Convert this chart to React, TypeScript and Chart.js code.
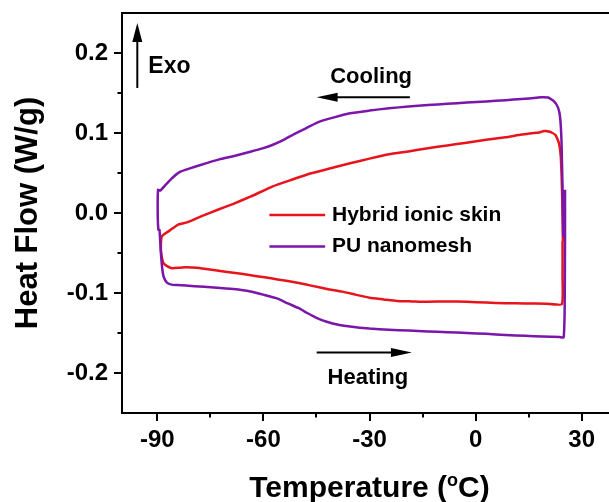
import React, { useEffect, useRef } from "react";
import { Chart, registerables } from "chart.js";

Chart.register(...registerables);

// ---------- data ----------
const SERIES_NAMES = ["Hybrid ionic skin", "PU nanomesh"];

// Hybrid ionic skin: cooling (right -> left, upper branch) then heating (left -> right, lower branch)
const RED_T = [
  24.7, 24.5, 24.1, 23.6, 22.6, 21.0, 19.3, 18.3, 13.0, 8.5, 3.0, -2.55, -8.0, -13.5, -19.0, -24.5,
  -30.0, -35.5, -41.0, -46.5, -52.0, -57.5, -63.7, -68.5, -73.1, -77.5, -81.6, -84.0, -86.3, -88.7,
  -89.0, -88.6, -88.2, -87.0, -85.8, -83.5, -81.7, -78.8, -76.2, -73.1, -68.5, -64.0, -59.7, -56.0,
  -53.1, -50.0, -46.5, -42.0, -37.7, -34.0, -30.0, -26.0, -22.3, -18.0, -13.5, -8.0, -2.55, 3.0,
  8.46, 14.0, 20.0, 24.4, 24.6, 24.6,
];
const RED_HF = [
  -0.035, 0.02, 0.07, 0.087, 0.0975, 0.1015, 0.1025, 0.101, 0.098, 0.0946, 0.0915, 0.0879, 0.0845,
  0.0809, 0.077, 0.0734, 0.068, 0.0621, 0.056, 0.0496, 0.0415, 0.033, 0.0204, 0.0115, 0.00375,
  -0.004, -0.0117, -0.0142, -0.0213, -0.029,
  -0.045, -0.058, -0.063, -0.067, -0.069, -0.0684, -0.0679, -0.0684, -0.07, -0.072, -0.0746,
  -0.0775, -0.0804, -0.083, -0.085, -0.0875, -0.0908, -0.095, -0.0983, -0.102, -0.1059, -0.108,
  -0.11, -0.1105, -0.111, -0.1105, -0.111, -0.112, -0.1129, -0.113, -0.1135, -0.114, -0.08, -0.035,
];

// PU nanomesh
const PU_T = [
  24.8, 24.6, 24.3, 23.9, 23.3, 22.2, 20.5, 18.5, 17.2, 13.0, 8.5, 3.0, -2.5, -8.0, -13.5, -19.0,
  -24.5, -30.0, -35.5, -40.0, -44.3, -47.5, -50.9, -54.0, -57.5, -60.5, -63.7, -68.0, -72.5, -77.8,
  -81.0, -83.5, -85.5, -87.5, -89.2, -89.8,
  -89.9, -89.7, -89.4, -89.0, -88.6, -88.2, -87.3, -86.0, -84.4, -79.5, -74.0, -68.5, -63.7, -59.7,
  -56.0, -53.1, -50.0, -47.6, -45.0, -42.1, -38.5, -35.5, -30.0, -24.5, -19.0, -13.5, -8.0, -2.5,
  3.0, 8.5, 14.0, 19.0, 23.8, 24.9, 25.2, 25.3, 25.3,
];
const PU_HF = [
  -0.03, 0.03, 0.09, 0.12, 0.132, 0.1395, 0.1443, 0.1447, 0.144, 0.1425, 0.141, 0.1395, 0.138,
  0.1365, 0.135, 0.133, 0.131, 0.128, 0.1246, 0.1195, 0.114, 0.107, 0.0996, 0.092, 0.085, 0.0805,
  0.0766, 0.0715, 0.067, 0.06, 0.0555, 0.0516, 0.045, 0.036, 0.028, 0.029,
  0.0, -0.021, -0.021, -0.05, -0.07, -0.08, -0.087, -0.0895, -0.09, -0.0915, -0.093, -0.095,
  -0.098, -0.1025, -0.107, -0.113, -0.119, -0.125, -0.131, -0.136, -0.14, -0.142, -0.1445, -0.146,
  -0.147, -0.148, -0.149, -0.15, -0.151, -0.1525, -0.1535, -0.1545, -0.155, -0.1555, -0.12, -0.03,
  0.029,
];

const X_MAJOR = [-90, -60, -30, 0, 30];
const X_MINOR = [-75, -45, -15, 15];
const Y_MAJOR = [-0.2, -0.1, 0.0, 0.1, 0.2];
const Y_MINOR = [-0.15, -0.05, 0.05, 0.15];
const X_RANGE = [-100, 40];
const Y_RANGE = [-0.25, 0.25];

const X_TITLE_MAIN = "Temperature (";
const X_TITLE_SUP = "o";
const X_TITLE_END = "C)";
const Y_TITLE = "Heat Flow (W/g)";

// ---------- styles ----------
const FONT = "'Liberation Sans', Arial, Helvetica, sans-serif";
const RED = "#E8141C";
const PURPLE = "#7A16A8";

// annotation anchors in data coordinates
const EXO = { x: -95.67, y0: 0.1563, y1: 0.2375, tx: -92.55, ty: 0.1754, text: "Exo" };
const COOL = { y: 0.1447, from: -18.57, to: -44.95, tx: -41.13, ty: 0.1622, text: "Cooling" };
const HEAT = { y: -0.1744, from: -44.95, to: -18.0, tx: -41.87, ty: -0.2139, text: "Heating" };
const LEG = { x0: -58.31, x1: -42.54, tx: -40.6, ys: [-0.0024, -0.042] };

const decorPlugin = {
  id: "decor",
  afterDraw(chart: any) {
    const { ctx, chartArea: a, scales } = chart;
    const xs = scales.x;
    const ys = scales.y;
    ctx.save();
    ctx.strokeStyle = "#000";
    ctx.fillStyle = "#000";
    ctx.lineWidth = 2;
    ctx.lineCap = "butt";

    // top and right frame
    ctx.beginPath();
    ctx.moveTo(a.left - 1, a.top);
    ctx.lineTo(a.right, a.top);
    ctx.lineTo(a.right, a.bottom);
    ctx.stroke();

    // tick marks (outward)
    const tick = (vals: number[], len: number) => {
      vals.forEach((v) => {
        const px = Math.round(xs.getPixelForValue(v));
        ctx.beginPath();
        ctx.moveTo(px, a.bottom);
        ctx.lineTo(px, a.bottom + len);
        ctx.stroke();
      });
    };
    tick(X_MAJOR, 8);
    tick(X_MINOR, 4.5);
    const ytick = (vals: number[], len: number) => {
      vals.forEach((v) => {
        const py = Math.round(ys.getPixelForValue(v));
        ctx.beginPath();
        ctx.moveTo(a.left, py);
        ctx.lineTo(a.left - len, py);
        ctx.stroke();
      });
    };
    ytick(Y_MAJOR, 8);
    ytick(Y_MINOR, 4.5);

    // y title
    ctx.save();
    ctx.font = `bold 31px ${FONT}`;
    ctx.textAlign = "center";
    ctx.textBaseline = "alphabetic";
    ctx.translate(37, (a.top + a.bottom) / 2);
    ctx.rotate(-Math.PI / 2);
    ctx.fillText(Y_TITLE, 0, 0);
    ctx.restore();

    // x title with superscript
    ctx.textBaseline = "alphabetic";
    ctx.textAlign = "left";
    const mainFont = `bold 30px ${FONT}`;
    const supFont = `bold 18px ${FONT}`;
    ctx.font = mainFont;
    const w1 = ctx.measureText(X_TITLE_MAIN).width;
    const w3 = ctx.measureText(X_TITLE_END).width;
    ctx.font = supFont;
    const w2 = ctx.measureText(X_TITLE_SUP).width;
    const total = w1 + w2 + w3;
    const cx = (a.left + a.right) / 2;
    let sx = cx - total / 2;
    const base = 497;
    ctx.font = mainFont;
    ctx.fillText(X_TITLE_MAIN, sx, base);
    sx += w1;
    ctx.font = supFont;
    ctx.fillText(X_TITLE_SUP, sx, base - 11);
    sx += w2;
    ctx.font = mainFont;
    ctx.fillText(X_TITLE_END, sx, base);

    // Exo arrow
    const ex = xs.getPixelForValue(EXO.x);
    const ey0 = ys.getPixelForValue(EXO.y0);
    const ey1 = ys.getPixelForValue(EXO.y1);
    ctx.beginPath();
    ctx.moveTo(ex, ey0);
    ctx.lineTo(ex, ey1 + 10);
    ctx.stroke();
    ctx.beginPath();
    ctx.moveTo(ex, ey1);
    ctx.lineTo(ex - 5, ey1 + 19);
    ctx.lineTo(ex + 5, ey1 + 19);
    ctx.closePath();
    ctx.fill();
    ctx.font = `bold 23px ${FONT}`;
    ctx.fillText(EXO.text, xs.getPixelForValue(EXO.tx), ys.getPixelForValue(EXO.ty));

    // horizontal arrows
    const harrow = (y: number, from: number, to: number) => {
      const py = ys.getPixelForValue(y);
      const p0 = xs.getPixelForValue(from);
      const p1 = xs.getPixelForValue(to);
      const dir = Math.sign(p1 - p0);
      ctx.beginPath();
      ctx.moveTo(p0, py);
      ctx.lineTo(p1 - dir * 12, py);
      ctx.stroke();
      ctx.beginPath();
      ctx.moveTo(p1, py);
      ctx.lineTo(p1 - dir * 21, py - 4.5);
      ctx.lineTo(p1 - dir * 21, py + 4.5);
      ctx.closePath();
      ctx.fill();
    };
    harrow(COOL.y, COOL.from, COOL.to);
    harrow(HEAT.y, HEAT.from, HEAT.to);
    ctx.font = `bold 22px ${FONT}`;
    ctx.fillText(COOL.text, xs.getPixelForValue(COOL.tx), ys.getPixelForValue(COOL.ty));
    ctx.fillText(HEAT.text, xs.getPixelForValue(HEAT.tx), ys.getPixelForValue(HEAT.ty));

    // legend
    const dsets = chart.data.datasets;
    dsets.forEach((ds: any, i: number) => {
      const py = ys.getPixelForValue(LEG.ys[i]);
      ctx.strokeStyle = ds.borderColor;
      ctx.lineWidth = 2.5;
      ctx.beginPath();
      ctx.moveTo(xs.getPixelForValue(LEG.x0), py);
      ctx.lineTo(xs.getPixelForValue(LEG.x1), py);
      ctx.stroke();
      ctx.fillStyle = "#000";
      ctx.font = `bold 21px ${FONT}`;
      ctx.textBaseline = "middle";
      ctx.fillText(ds.label, xs.getPixelForValue(LEG.tx), py);
    });
    ctx.restore();
  },
};

function toPoints(xsArr: number[], ysArr: number[]) {
  return xsArr.map((x, i) => ({ x, y: ysArr[i] }));
}

export default function App() {
  const ref = useRef<HTMLCanvasElement | null>(null);
  useEffect(() => {
    if (!ref.current) return;
    const chart = new Chart(ref.current, {
      type: "scatter",
      data: {
        datasets: [
          {
            label: SERIES_NAMES[0],
            data: toPoints(RED_T, RED_HF),
            showLine: true,
            borderColor: RED,
            backgroundColor: RED,
            borderWidth: 2.5,
            pointRadius: 0,
            tension: 0.15,
            order: 2,
          },
          {
            label: SERIES_NAMES[1],
            data: toPoints(PU_T, PU_HF),
            showLine: true,
            borderColor: PURPLE,
            backgroundColor: PURPLE,
            borderWidth: 2.5,
            pointRadius: 0,
            tension: 0.15,
            order: 1,
          },
        ],
      },
      options: {
        responsive: false,
        animation: false,
        events: [],
        layout: { padding: { left: 0, top: 13, right: 23, bottom: 0 } },
        plugins: { legend: { display: false }, tooltip: { enabled: false } },
        scales: {
          x: {
            type: "linear",
            min: X_RANGE[0],
            max: X_RANGE[1],
            afterBuildTicks: (s: any) => {
              s.ticks = X_MAJOR.map((v) => ({ value: v }));
            },
            afterFit: (s: any) => {
              s.height = 89;
              s.paddingLeft = 0;
              s.paddingRight = 0;
            },
            grid: { display: false, drawTicks: false },
            border: { display: true, color: "#000", width: 2 },
            ticks: {
              color: "#000",
              font: { family: FONT, size: 24, weight: "bold" },
              padding: 13,
              maxRotation: 0,
              autoSkip: false,
              callback: (v: any) => String(v),
            },
          },
          y: {
            type: "linear",
            min: Y_RANGE[0],
            max: Y_RANGE[1],
            afterBuildTicks: (s: any) => {
              s.ticks = Y_MAJOR.map((v) => ({ value: v }));
            },
            afterFit: (s: any) => {
              s.width = 122;
              s.paddingTop = 0;
              s.paddingBottom = 0;
            },
            grid: { display: false, drawTicks: false },
            border: { display: true, color: "#000", width: 2 },
            ticks: {
              color: "#000",
              font: { family: FONT, size: 24, weight: "bold" },
              padding: 14,
              autoSkip: false,
              callback: (v: any) => Number(v).toFixed(1),
            },
          },
        },
      },
      plugins: [decorPlugin],
    } as any);
    return () => chart.destroy();
  }, []);

  return (
    <div
      style={{
        position: "fixed",
        left: 0,
        top: 0,
        width: 609,
        height: 502,
        overflow: "hidden",
        background: "#fff",
      }}
    >
      <canvas ref={ref} width={640} height={502} style={{ display: "block" }} />
    </div>
  );
}
